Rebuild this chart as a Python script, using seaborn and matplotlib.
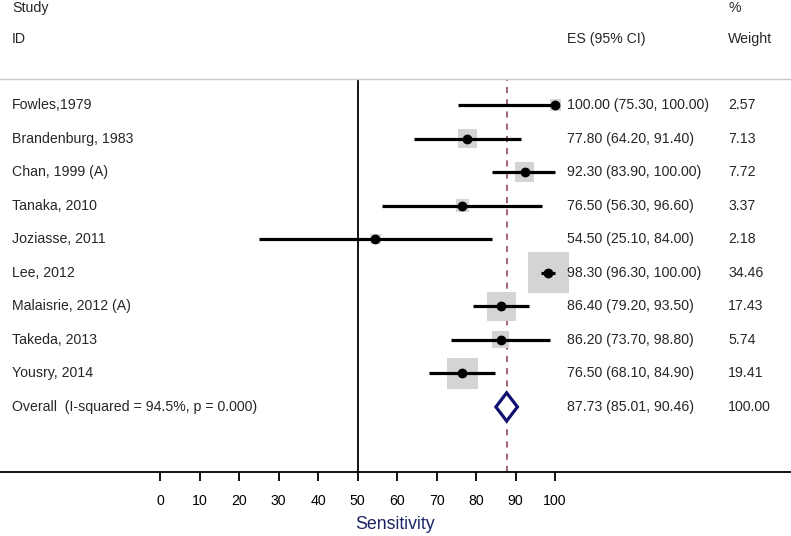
import numpy as np
import pandas as pd
import matplotlib
matplotlib.use("Agg")
import matplotlib.pyplot as plt
import seaborn as sns
from matplotlib.patches import Polygon

studies = ["Fowles,1979", "Brandenburg, 1983", "Chan, 1999 (A)", "Tanaka, 2010",
           "Joziasse, 2011", "Lee, 2012", "Malaisrie, 2012 (A)", "Takeda, 2013",
           "Yousry, 2014"]
es = [100.00, 77.80, 92.30, 76.50, 54.50, 98.30, 86.40, 86.20, 76.50]
lo = [75.30, 64.20, 83.90, 56.30, 25.10, 96.30, 79.20, 73.70, 68.10]
hi = [100.00, 91.40, 100.00, 96.60, 84.00, 100.00, 93.50, 98.80, 84.90]
weight = [2.57, 7.13, 7.72, 3.37, 2.18, 34.46, 17.43, 5.74, 19.41]

overall_label = "Overall  (I-squared = 94.5%, p = 0.000)"
overall_es, overall_lo, overall_hi = 87.73, 85.01, 90.46
xticks = list(range(0, 101, 10))

df = pd.DataFrame({"study": studies, "es": es, "lo": lo, "hi": hi, "w": weight})
df["row"] = np.arange(len(df))

sns.set_style("white")
plt.rcParams["font.family"] = ["Liberation Sans", "DejaVu Sans"]

fig = plt.figure(figsize=(7.91, 5.36), dpi=100)
ax = fig.add_axes([0, 64 / 536, 1, (472 - 79) / 536])
ax.set_xlim(-40.5, 159.7)
ax.set_ylim(10.94, -0.775)

# weight boxes (area proportional to weight)
side_px = 41 * np.sqrt(df["w"] / df["w"].max())
ax.scatter(df["es"], df["row"], s=(side_px * 0.72) ** 2, marker="s",
           color="#d4d4d4", linewidths=0, zorder=2)
# confidence intervals
ax.hlines(df["row"], df["lo"], df["hi"], color="black", lw=2.3, zorder=3)
sns.scatterplot(data=df, x="es", y="row", ax=ax, color="black", s=50,
                edgecolor="black", linewidth=0, zorder=4, legend=False)

# reference lines
ax.axvline(50, color="black", lw=1.3, zorder=1)
ax.axvline(overall_es, color="#8b3a4a", lw=1.1, ls=(0, (4, 4)), zorder=1)

# overall diamond
r = len(df)
diamond = Polygon([[overall_lo, r], [overall_es, r - 0.42], [overall_hi, r],
                   [overall_es, r + 0.42]], closed=True, facecolor="white",
                  edgecolor="#101070", lw=2.3, zorder=5)
ax.add_patch(diamond)

# texts
fs = 10.2
for i, row in df.iterrows():
    ax.text(-37.5, row["row"], row["study"], va="center", fontsize=fs, clip_on=False)
    ax.text(103.0, row["row"], f"{row['es']:.2f} ({row['lo']:.2f}, {row['hi']:.2f})",
            va="center", fontsize=fs, clip_on=False)
    ax.text(143.8, row["row"], f"{row['w']:.2f}", va="center", fontsize=fs, clip_on=False)
ax.text(-37.5, r, overall_label, va="center", fontsize=fs, clip_on=False)
ax.text(103.0, r, f"{overall_es:.2f} ({overall_lo:.2f}, {overall_hi:.2f})",
        va="center", fontsize=fs, clip_on=False)
ax.text(143.8, r, "100.00", va="center", fontsize=fs, clip_on=False)

ax.text(-37.5, -2.88, "Study", va="center", fontsize=fs, clip_on=False)
ax.text(-37.5, -1.97, "ID", va="center", fontsize=fs, clip_on=False)
ax.text(103.0, -1.97, "ES (95% CI)", va="center", fontsize=fs, clip_on=False)
ax.text(143.8, -2.88, "%", va="center", fontsize=fs, clip_on=False)
ax.text(143.8, -1.97, "Weight", va="center", fontsize=fs, clip_on=False)

# axes styling
for s in ["left", "right"]:
    ax.spines[s].set_visible(False)
ax.spines["top"].set_color("#c8c8c8")
ax.spines["top"].set_linewidth(1.0)
ax.spines["bottom"].set_color("black")
ax.spines["bottom"].set_linewidth(1.3)
ax.set_yticks([])
ax.set_xticks(xticks)
ax.tick_params(axis="x", direction="out", length=6.5, width=1.3, pad=9,
               labelsize=fs, colors="black", bottom=True)
ax.set_ylabel("")
ax.set_xlabel("Sensitivity", color="#1a2466", fontsize=12.8, labelpad=6)

fig.savefig("out.png", dpi=100)
